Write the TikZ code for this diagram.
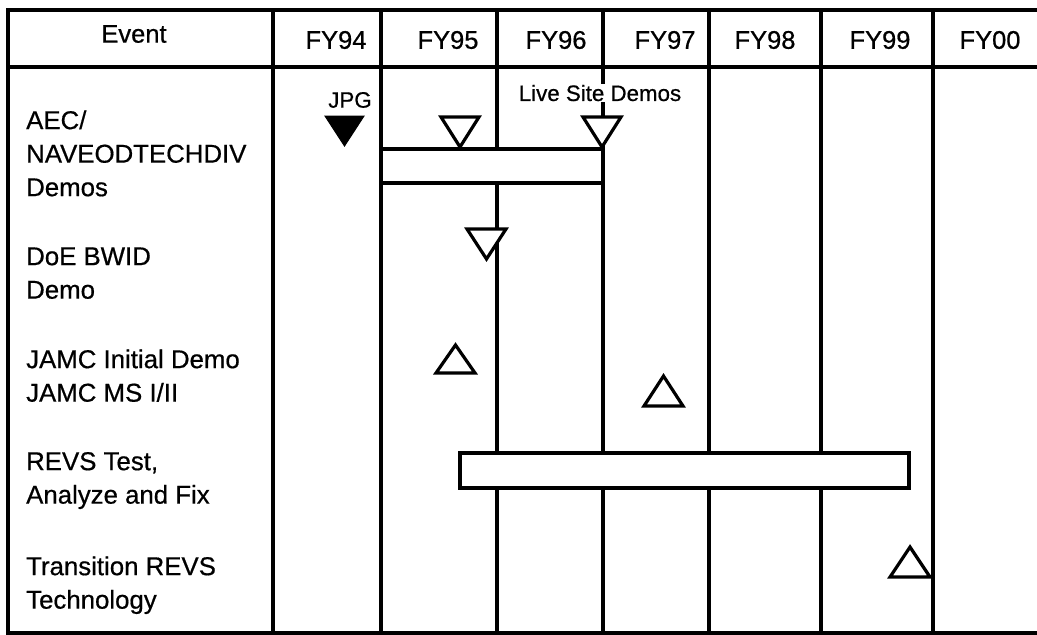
\documentclass[tikz,border=0pt]{standalone}
\usepackage{fontspec}
\setmainfont{Liberation Sans}[FakeBold=0.6]
\newcommand{\hdrfont}{\fontsize{25.5}{30}\selectfont}
\newcommand{\lblfont}{\fontsize{25.8}{33.5}\selectfont}
\newcommand{\smallfnt}{\fontsize{22.3}{26}\selectfont}
\begin{document}
\begin{tikzpicture}[x=1pt,y=-1pt,
  grid/.style={line width=3.2pt, line cap=rect},
  bar/.style={line width=3.2pt, fill=white, draw=black},
  tri/.style={line width=3.2pt, fill=white, draw=black, line join=miter},
  filltri/.style={line width=1pt, fill=black, draw=black},
  hdr/.style={font=\hdrfont, inner sep=0pt},
  rowlbl/.style={font=\lblfont, anchor=north west, align=left, inner sep=0pt},
  note/.style={font=\smallfnt, inner sep=1pt}]
\useasboundingbox (0,0) rectangle (1037,635);
% frame and grid
\draw[grid] (1037,10) -- (8,10) -- (8,633) -- (1037,633);
\draw[grid] (8,67) -- (1037,67);
\foreach \x in {273,381,497,603,709,821,933}
  \draw[grid] (\x,10) -- (\x,633);
% header
\node[hdr] (hEvent) at (134,34) {Event};
\node[hdr] (h94) at (336,40) {FY94};
\node[hdr] (h95) at (448,40) {FY95};
\node[hdr] (h96) at (556,40) {FY96};
\node[hdr] (h97) at (665,40) {FY97};
\node[hdr] (h98) at (765,40) {FY98};
\node[hdr] (h99) at (880,40) {FY99};
\node[hdr] (h00) at (990,40) {FY00};
% row labels
\node[rowlbl] (r1) at (26,105.5) {AEC/\strut\\NAVEODTECHDIV\strut\\Demos\strut};
\node[rowlbl] (r2) at (26,241.5) {DoE BWID\strut\\Demo\strut};
\node[rowlbl] (r3) at (26,344.5) {JAMC Initial Demo\strut\\JAMC MS I/II\strut};
\node[rowlbl] (r4) at (26,446.5) {REVS Test,\strut\\Analyze and Fix\strut};
\node[rowlbl] (r5) at (26,551.5) {Transition REVS\strut\\Technology\strut};
% bars
\draw[bar] (381,149) rectangle (603,183);
\draw[bar] (460,453) rectangle (909,488);
% notes
\node[note, fill=white] (live) at (600,93) {Live Site Demos};
\node[note] (jpg) at (350,100) {JPG};
% triangles
\draw[filltri] (325,116) -- (364,116) -- (344.5,146) -- cycle;
\draw[tri] (441,117) -- (479,117) -- (460,147) -- cycle;
\draw[tri] (583,117) -- (621,117) -- (602,147) -- cycle;
\draw[tri] (467,229) -- (506,229) -- (486.5,259) -- cycle;
\draw[tri] (436,373) -- (475,373) -- (455.5,345) -- cycle;
\draw[tri] (644,406) -- (683,406) -- (663.5,376) -- cycle;
\draw[tri] (890,577) -- (930,577) -- (910,547) -- cycle;
\end{tikzpicture}
\end{document}
